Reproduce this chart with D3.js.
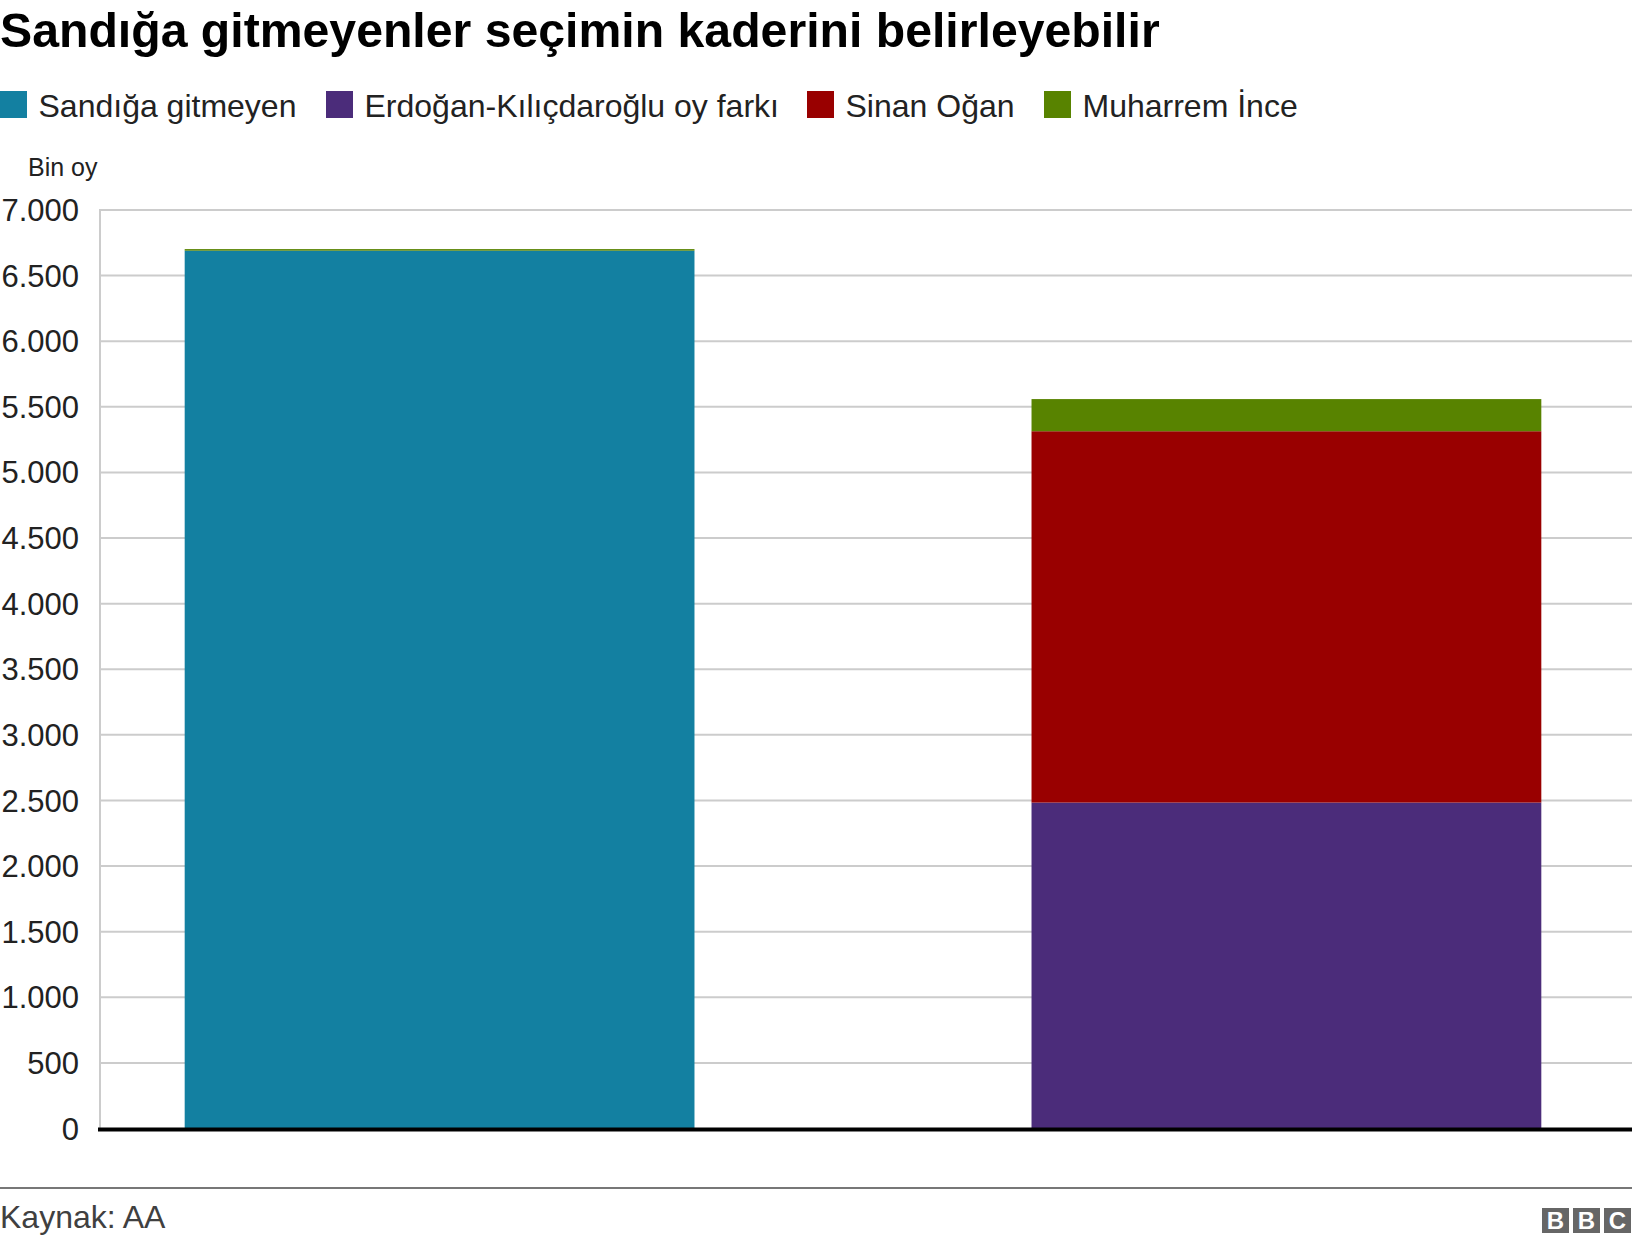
<!DOCTYPE html>
<html><head><meta charset="utf-8">
<script src="https://cdn.jsdelivr.net/npm/d3@7"></script>
<style>
html,body{margin:0;padding:0;background:#fff;}
svg{display:block;font-family:"Liberation Sans",Arial,Helvetica,sans-serif;}
</style></head>
<body>
<svg id="chart" width="1632" height="1244"></svg>
<script>
const categories = ["Sandığa gitmeyen", "Fark + Oğan + İnce"];
const seriesNames = ["Sandığa gitmeyen", "Erdoğan-Kılıçdaroğlu oy farkı", "Sinan Oğan", "Muharrem İnce"];
const sandigaGitmeyen = [6690, 0];
const erdoganKilicdarogluFark = [0, 2484];
const sinanOgan = [0, 2830];
const muharremInce = [12, 245];
const seriesColors = ["#1380A1", "#4B2C7A", "#990000", "#588300"];
const yTicks = [0, 500, 1000, 1500, 2000, 2500, 3000, 3500, 4000, 4500, 5000, 5500, 6000, 6500, 7000];

const W = 1632, H = 1244;
const svg = d3.select("#chart");
const rows = categories.map((c, i) => ({
  cat: c,
  s0: sandigaGitmeyen[i], s1: erdoganKilicdarogluFark[i], s2: sinanOgan[i], s3: muharremInce[i]
}));
const stack = d3.stack().keys(["s0", "s1", "s2", "s3"])(rows);

const x = d3.scaleBand().domain(categories).range([100, 1626]).paddingInner(0.398).paddingOuter(0.1);
const y = d3.scaleLinear().domain([0, 7000]).range([1128.5, 210]);

// title
svg.append("text").attr("x", 0).attr("y", 47)
  .attr("font-size", 48.2).attr("font-weight", "bold").attr("fill", "#000")
  .text("Sandığa gitmeyenler seçimin kaderini belirleyebilir");

// legend
const legendX = [0, 326, 807, 1044];
const lg = svg.append("g");
seriesNames.forEach((n, i) => {
  lg.append("rect").attr("x", legendX[i]).attr("y", 91).attr("width", 27).attr("height", 27).attr("fill", seriesColors[i]);
  lg.append("text").attr("x", legendX[i] + 38.5).attr("y", 117).attr("font-size", 32).attr("fill", "#222").text(n);
});

// y label
svg.append("text").attr("x", 28).attr("y", 176).attr("font-size", 25).attr("fill", "#222").text("Bin oy");

// gridlines
const fmt = v => d3.format(",")(v).replace(/,/g, ".");
svg.append("g").selectAll("line").data(yTicks.filter(t => t > 0)).join("line")
  .attr("x1", 100).attr("x2", W).attr("y1", d => y(d)).attr("y2", d => y(d))
  .attr("stroke", "#cccccc").attr("stroke-width", 2);

// left axis line
svg.append("line").attr("x1", 100).attr("x2", 100).attr("y1", y(7000) - 1).attr("y2", y(0))
  .attr("stroke", "#cccccc").attr("stroke-width", 2);

// y axis labels via d3 axis
const yAxis = d3.axisLeft(y).tickValues(yTicks).tickFormat(fmt).tickSize(0).tickPadding(0);
const ga = svg.append("g").attr("transform", "translate(79,0)").call(yAxis);
ga.select(".domain").remove();
ga.selectAll("text").attr("font-size", 31).attr("fill", "#222")
  .attr("font-family", "'Liberation Sans',Arial,sans-serif").attr("dy", "0.34em");

// bars
svg.append("g").selectAll("g").data(stack).join("g")
  .attr("fill", (d, i) => seriesColors[i])
  .selectAll("rect").data(d => d).join("rect")
  .attr("x", d => x(d.data.cat)).attr("width", x.bandwidth())
  .attr("y", d => y(d[1])).attr("height", d => Math.max(0, y(d[0]) - y(d[1])));

// zero line
svg.append("line").attr("x1", 98).attr("x2", W).attr("y1", y(0) + 1).attr("y2", y(0) + 1)
  .attr("stroke", "#000").attr("stroke-width", 4);

// footer
svg.append("line").attr("x1", 0).attr("x2", W).attr("y1", 1188).attr("y2", 1188)
  .attr("stroke", "#777").attr("stroke-width", 2);
svg.append("text").attr("x", 0).attr("y", 1228).attr("font-size", 32).attr("fill", "#404040").text("Kaynak: AA");

// BBC logo
const bbc = svg.append("g");
["B", "B", "C"].forEach((l, i) => {
  const bx = 1542 + i * 31;
  bbc.append("rect").attr("x", bx).attr("y", 1208).attr("width", 27).attr("height", 25).attr("fill", "#666");
  bbc.append("text").attr("x", bx + 13.5).attr("y", 1229).attr("text-anchor", "middle")
    .attr("font-size", 24).attr("font-weight", "bold").attr("fill", "#fff").text(l);
});
</script>
</body></html>
